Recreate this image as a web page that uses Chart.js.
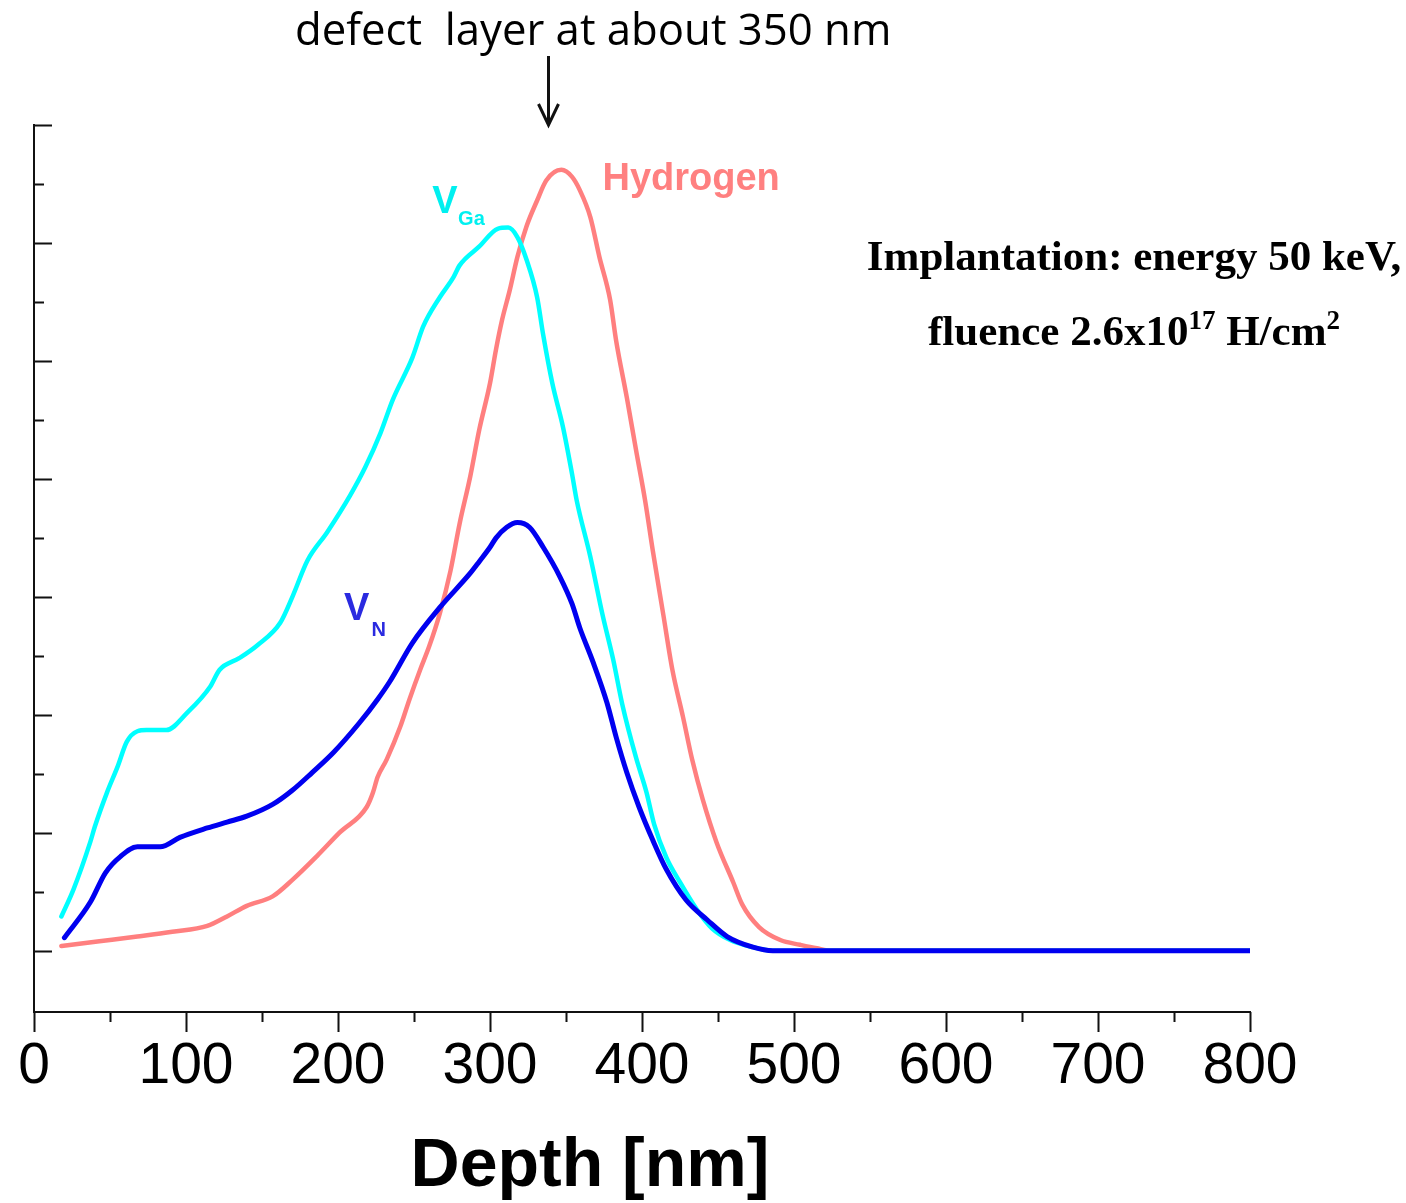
<!DOCTYPE html>
<html>
<head>
<meta charset="utf-8">
<script src="https://cdn.jsdelivr.net/npm/chart.js@4.4.1/dist/chart.umd.min.js"></script>
<style>
    html, body { margin: 0; padding: 0; background: #fff; }
    #wrap { width: 1406px; height: 1203px; }
</style>
</head>
<body>
<div id="wrap"><canvas id="depthChart"></canvas></div>
<script>
// depth profiles (nm) and relative concentration, one pair of arrays per species
const hDepth = [18, 43, 68, 91, 114, 127, 140, 157, 170, 186, 201, 219, 223, 226, 232, 241, 247, 254, 260, 267,
    274, 280, 287, 293, 300, 304, 308, 313, 318, 324, 331, 337, 347, 354, 359, 366, 372, 379, 383, 390,
    396, 402, 407, 414, 420, 427, 433, 440, 449, 460, 466, 477, 491, 504, 515, 525, 800];
const hConc = [0.04, 0.08, 0.12, 0.16, 0.21, 0.29, 0.38, 0.46, 0.60, 0.80, 1.00, 1.22, 1.34, 1.47, 1.62, 1.90, 2.13, 2.38, 2.58, 2.86,
    3.22, 3.62, 4.02, 4.42, 4.81, 5.10, 5.35, 5.60, 5.88, 6.14, 6.36, 6.53, 6.62, 6.56, 6.45, 6.22, 5.88, 5.52, 5.17, 4.69,
    4.25, 3.82, 3.40, 2.85, 2.38, 1.98, 1.62, 1.28, 0.92, 0.58, 0.39, 0.20, 0.09, 0.05, 0.02, 0, 0];

const vgaDepth = [18, 26, 37, 40, 48, 55, 61, 68, 74, 87, 101, 116, 122, 135, 147, 162, 170, 180, 193, 208,
    218, 228, 236, 249, 256, 267, 276, 280, 293, 305, 312, 318, 324, 331, 335, 341, 348, 354, 357, 366,
    374, 381, 387, 396, 403, 408, 416, 425, 436, 446, 458, 473, 486, 800];
const vgaConc = [0.29, 0.52, 0.92, 1.05, 1.34, 1.56, 1.77, 1.86, 1.87, 1.87, 2.02, 2.24, 2.38, 2.48, 2.59, 2.78, 3.00, 3.31, 3.55, 3.86,
    4.10, 4.39, 4.67, 5.03, 5.29, 5.54, 5.71, 5.81, 5.97, 6.12, 6.13, 6.05, 5.86, 5.54, 5.22, 4.81, 4.44, 4.04, 3.82, 3.34,
    2.85, 2.47, 2.09, 1.64, 1.34, 1.07, 0.79, 0.58, 0.35, 0.19, 0.09, 0.03, 0, 0];

const vnDepth = [20, 37, 47, 57, 68, 83, 96, 114, 127, 140, 157, 170, 183, 197, 214, 226, 234, 249, 267, 287,
    293, 300, 304, 311, 318, 326, 335, 346, 354, 359, 368, 377, 383, 390, 398, 407, 416, 429, 443, 456,
    473, 486, 800];
const vnConc = [0.11, 0.41, 0.66, 0.80, 0.88, 0.88, 0.96, 1.04, 1.09, 1.14, 1.24, 1.36, 1.51, 1.68, 1.93, 2.13, 2.28, 2.61, 2.91, 3.20,
    3.30, 3.42, 3.50, 3.59, 3.63, 3.59, 3.42, 3.17, 2.94, 2.74, 2.44, 2.10, 1.81, 1.51, 1.22, 0.94, 0.69, 0.43, 0.26, 0.12,
    0.03, 0, 0];

const xTickLabels = ['0', '100', '200', '300', '400', '500', '600', '700', '800'];

function toPoints(xs, ys) {
    return xs.map((x, i) => ({ x: x, y: ys[i] }));
}

// tick marks, labels on the curves and the notes around the plot
const drawExtras = {
    id: 'drawExtras',
    afterDraw(chart) {
        const ctx = chart.ctx;
        const xs = chart.scales.x;
        const ys = chart.scales.y;
        const area = chart.chartArea;

        ctx.save();
        ctx.strokeStyle = '#111';
        ctx.lineWidth = 2;
        ctx.beginPath();
        for (let v = 0; v <= 800; v += 50) {
            const px = Math.round(xs.getPixelForValue(v)) + 0.5;
            const len = v % 100 === 0 ? 20 : 10;
            ctx.moveTo(px, area.bottom);
            ctx.lineTo(px, area.bottom + len);
        }
        for (let v = 0; v <= 7; v += 0.5) {
            const py = Math.round(ys.getPixelForValue(v)) + 0.5;
            const len = v % 1 === 0 ? 18 : 10;
            ctx.moveTo(area.left, py);
            ctx.lineTo(area.left + len, py);
        }
        ctx.stroke();

        // axis title
        ctx.fillStyle = '#000';
        ctx.font = 'bold 68px "Liberation Sans", Arial, sans-serif';
        ctx.textAlign = 'center';
        ctx.textBaseline = 'alphabetic';
        ctx.fillText('Depth [nm]', 590, 1186);

        // species labels
        ctx.textAlign = 'left';
        ctx.font = 'bold 38px "Liberation Sans", Arial, sans-serif';
        ctx.fillStyle = '#ff8080';
        ctx.fillText('Hydrogen', xs.getPixelForValue(374), ys.getPixelForValue(6.45));

        ctx.fillStyle = '#00f0f0';
        ctx.fillText('V', xs.getPixelForValue(262), ys.getPixelForValue(6.25));
        ctx.font = 'bold 20px "Liberation Sans", Arial, sans-serif';
        ctx.fillText('Ga', xs.getPixelForValue(279), ys.getPixelForValue(6.15));

        ctx.fillStyle = '#2a2ae0';
        ctx.font = 'bold 38px "Liberation Sans", Arial, sans-serif';
        ctx.fillText('V', xs.getPixelForValue(204), ys.getPixelForValue(2.8));
        ctx.font = 'bold 20px "Liberation Sans", Arial, sans-serif';
        ctx.fillText('N', xs.getPixelForValue(222), ys.getPixelForValue(2.67));

        // note and arrow above the plot
        ctx.fillStyle = '#000';
        const note = 'defect  layer at about 350 nm';
        let size = 44;
        ctx.font = size + 'px "Open Sans", sans-serif';
        size = size * 597 / ctx.measureText(note).width;
        ctx.font = size.toFixed(1) + 'px "Open Sans", sans-serif';
        ctx.fillText(note, 295, 45);

        const ax = Math.round(xs.getPixelForValue(338)) + 0.5;
        ctx.lineWidth = 3;
        ctx.beginPath();
        ctx.moveTo(ax, 56);
        ctx.lineTo(ax, 124);
        ctx.moveTo(ax - 10, 104);
        ctx.lineTo(ax, 125);
        ctx.lineTo(ax + 10, 104);
        ctx.stroke();

        // implantation conditions
        const cx = 1134;
        const big = 'bold 43px "Liberation Serif", "Times New Roman", serif';
        const small = 'bold 27px "Liberation Serif", "Times New Roman", serif';
        ctx.font = big;
        ctx.textAlign = 'center';
        ctx.fillText('Implantation: energy 50 keV,', cx, 270);

        const parts = [
            ['fluence 2.6x10', big, 0],
            ['17', small, -16],
            [' H/cm', big, 0],
            ['2', small, -16]
        ];
        let total = 0;
        parts.forEach(p => { ctx.font = p[1]; total += ctx.measureText(p[0]).width; });
        let x = cx - total / 2;
        ctx.textAlign = 'left';
        parts.forEach(p => {
            ctx.font = p[1];
            ctx.fillText(p[0], x, 345 + p[2]);
            x += ctx.measureText(p[0]).width;
        });
        ctx.restore();
    }
};

const ctxEl = document.getElementById('depthChart');
new Chart(ctxEl, {
    type: 'line',
    data: {
        datasets: [
            {
                label: 'V_N',
                data: toPoints(vnDepth, vnConc),
                borderColor: '#0000f0',
                borderWidth: 5,
                order: 1
            },
            {
                label: 'V_Ga',
                data: toPoints(vgaDepth, vgaConc),
                borderColor: '#00ffff',
                borderWidth: 4.5,
                order: 2
            },
            {
                label: 'Hydrogen',
                data: toPoints(hDepth, hConc),
                borderColor: '#ff7f7f',
                borderWidth: 4.5,
                order: 3
            }
        ]
    },
    options: {
        responsive: true,
        maintainAspectRatio: false,
        animation: false,
        events: [],
        layout: { padding: { top: 125, right: 156, left: 0, bottom: 0 } },
        elements: {
            point: { radius: 0 },
            line: { cubicInterpolationMode: 'monotone', borderCapStyle: 'round', borderJoinStyle: 'round' }
        },
        plugins: {
            legend: { display: false },
            tooltip: { enabled: false }
        },
        scales: {
            x: {
                type: 'linear',
                min: 0,
                max: 800,
                afterFit(scale) { scale.height = 191; },
                afterBuildTicks(scale) {
                    scale.ticks = xTickLabels.map(t => ({ value: Number(t) }));
                },
                grid: { display: false },
                border: { display: true, color: '#111', width: 2 },
                ticks: {
                    color: '#000',
                    padding: 13,
                    maxRotation: 0,
                    autoSkip: false,
                    font: { family: '"Liberation Sans", Arial, sans-serif', size: 57 },
                    callback: (v, i) => xTickLabels[i]
                }
            },
            y: {
                type: 'linear',
                min: -0.52,
                max: 7,
                afterFit(scale) { scale.width = 34; },
                grid: { display: false },
                border: { display: true, color: '#111', width: 2 },
                ticks: { display: false }
            }
        }
    },
    plugins: [drawExtras]
});
</script>
</body>
</html>
